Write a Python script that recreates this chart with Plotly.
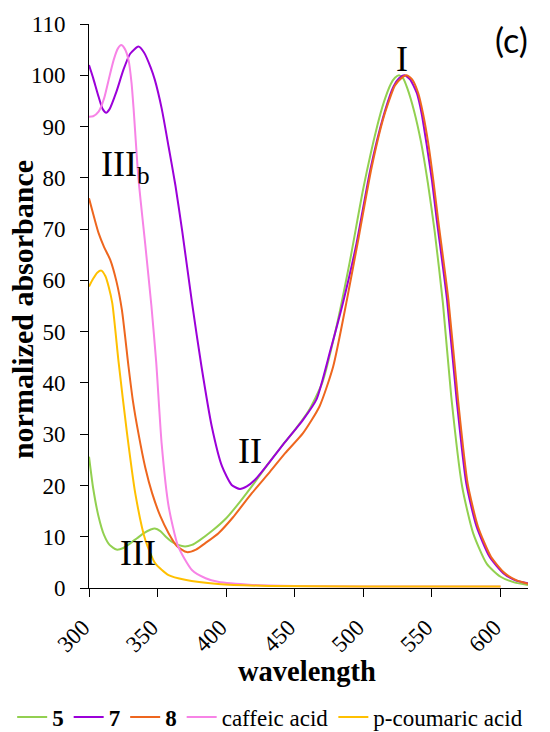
import plotly.graph_objects as go

# ---- data ----
wl_5 = [300, 303, 307, 311, 315, 320, 325, 330, 335, 340, 345, 348, 352, 356, 360, 365, 370, 375, 380,
        390, 400, 410, 420, 430, 440, 450, 460, 470, 480, 490, 500, 510, 515, 520, 523, 526, 529, 532, 537,
        542, 547, 552, 558, 564, 572, 580, 590, 600, 610, 620]
abs_5 = [25.6, 19.5, 13.9, 10.3, 8.4, 7.5, 7.8, 8.7, 9.7, 10.7, 11.4, 11.6, 11.1, 10.0, 9.1, 8.4, 8.1, 8.4, 9.2,
         11.2, 13.6, 16.8, 20.3, 24.0, 27.5, 30.8, 34.5, 40.0, 50.5, 63.5, 78.0, 90.0, 94.8, 98.3, 99.5, 100.0,
         99.4, 97.5, 93.0, 87.0, 79.0, 69.5, 55.5, 37.5, 19.8, 10.7, 4.7, 2.2, 1.1, 0.6]

wl_7 = [300, 303, 307, 310, 312.5, 315, 320, 325, 330, 336, 340, 345, 348, 353, 358, 363, 368, 375, 382,
        389.5, 397, 404, 410, 415, 421, 430, 443, 450, 456, 466, 476, 485, 495, 505, 514.5, 522, 526, 530,
        534, 539, 542.5, 546, 550, 553.5, 561, 568, 575, 582.5, 592, 602, 610, 620]
abs_7 = [102.0, 99.5, 95.8, 93.4, 92.7, 93.4, 96.8, 101.0, 104.2, 105.6, 104.5, 101.5, 99.1, 93.5, 86.1, 78.5,
         69.5, 55.8, 43.2, 31.5, 23.7, 20.1, 19.3, 19.8, 21.1, 24.0, 28.5, 30.8, 32.8, 36.9, 46.4, 55.5, 67.2,
         81.5, 91.9, 97.8, 99.4, 100.0, 99.2, 96.5, 92.5, 86.7, 79.5, 71.8, 56.2, 36.7, 20.4, 12.0, 6.1, 2.9,
         1.6, 0.9]

wl_8 = [300, 304, 307, 311, 315.5, 320, 324, 328.8, 332, 336, 341, 346, 352, 358, 364, 371.3, 378, 385,
        394.4, 405, 418.7, 432, 443, 456, 468, 478, 488, 497, 506, 515, 523, 527.5, 531.5, 535.5, 540, 543.5,
        547.3, 551, 554.5, 562, 569, 576, 583.5, 593, 603, 611, 620]
abs_8 = [76.0, 72.0, 69.2, 66.5, 64.0, 59.8, 54.2, 43.2, 36.5, 30.2, 23.5, 18.5, 14.0, 10.7, 8.2, 7.0, 7.5,
         8.8, 10.7, 13.8, 18.5, 22.7, 26.3, 30.2, 35.4, 43.2, 56.2, 69.0, 82.0, 92.0, 98.0, 99.4, 100.0, 99.2,
         96.5, 92.5, 86.7, 79.5, 71.8, 56.2, 36.7, 20.4, 12.0, 6.1, 2.9, 1.6, 0.8]

wl_caf = [300, 303, 307, 311, 314.3, 318, 321, 323.5, 326, 328.8, 331, 332.5, 336, 341, 345.5, 349, 353,
          358, 365, 375, 385, 394, 419, 450, 500, 550, 600]
abs_caf = [91.9, 92.0, 92.9, 95.5, 99.1, 103.0, 105.2, 105.9, 105.2, 103.0, 98.5, 93.5, 80.0, 67.0, 55.0,
           44.0, 28.0, 16.0, 8.1, 3.5, 1.9, 1.2, 0.6, 0.4, 0.3, 0.3, 0.3]

wl_cou = [300, 303, 306, 309, 312, 314.3, 317, 321.6, 327.7, 333.7, 341, 348.3, 358, 370, 394, 431, 500,
          550, 600]
abs_cou = [58.8, 60.3, 61.5, 61.9, 60.8, 58.8, 55.5, 44.0, 30.2, 18.5, 9.4, 4.8, 2.5, 1.6, 0.8, 0.4, 0.3,
           0.3, 0.3]

x_ticks = [300, 350, 400, 450, 500, 550, 600]
y_ticks = [0, 10, 20, 30, 40, 50, 60, 70, 80, 90, 100, 110]

series = [
    ("<b>5</b>", wl_5, abs_5, "#92D050"),
    ("<b>7</b>", wl_7, abs_7, "#9B00D9"),
    ("<b>8</b>", wl_8, abs_8, "#EE661E"),
    ("caffeic acid", wl_caf, abs_caf, "#F783E6"),
    ("p-coumaric acid", wl_cou, abs_cou, "#FFC000"),
]

SERIF = "serif"

fig = go.Figure()
for name, xs, ys, col in series:
    fig.add_trace(go.Scatter(x=xs, y=ys, name=name, mode="lines",
                             line=dict(color=col, width=2, shape="spline", smoothing=0.6)))

# band labels
labels = [
    ("I", 528, 103.2),
    ("II", 417.5, 26.7),
    ("III", 335.5, 6.8),
    ("III<sub>b</sub>", 326.5, 82.2),
]
for txt, xv, yv in labels:
    fig.add_annotation(x=xv, y=yv, text=txt, showarrow=False,
                       font=dict(family=SERIF, size=36, color="black"))

fig.add_annotation(xref="paper", yref="paper", x=1.004, y=0.972, text="(c)", showarrow=False,
                   xanchor="right", yanchor="middle",
                   font=dict(family="Lato", size=34, color="black"))

# axis titles (placed as annotations for exact position)
fig.add_annotation(xref="paper", yref="paper", x=-0.150, y=0.493, text="<b>normalized absorbance</b>",
                   textangle=-90, showarrow=False, xanchor="center", yanchor="middle",
                   font=dict(family=SERIF, size=30, color="black"))
fig.add_annotation(xref="paper", yref="paper", x=0.4977, y=-0.1489, text="<b>wavelength</b>",
                   showarrow=False, xanchor="center", yanchor="middle",
                   font=dict(family=SERIF, size=28.5, color="black"))

fig.update_layout(
    template="none",
    width=550, height=732,
    margin=dict(l=89, r=22, t=24, b=144, autoexpand=False),
    paper_bgcolor="white", plot_bgcolor="white",
    font=dict(family=SERIF, size=23, color="black"),
    showlegend=True,
    legend=dict(orientation="h", xref="paper", x=-0.175, xanchor="left",
                yref="paper", y=-0.2287, yanchor="middle",
                font=dict(family=SERIF, size=23, color="black"),
                itemwidth=30, tracegroupgap=0, bgcolor="rgba(0,0,0,0)"),
)
fig.update_xaxes(range=[300, 620], tickvals=x_ticks, ticktext=[str(v) for v in x_ticks],
                 tickangle=-45, ticks="outside", ticklen=8, tickcolor="black", automargin=False,
                 tickfont=dict(family=SERIF, size=23, color="black"),
                 ticklabelshift=-6, ticklabelstandoff=8,
                 showline=True, linecolor="black", linewidth=1, showgrid=False, zeroline=False)
fig.update_yaxes(range=[0, 110], tickvals=y_ticks, ticks="outside", ticklen=8, tickcolor="black",
                 automargin=False, tickfont=dict(family=SERIF, size=23, color="black"),
                 showline=True, linecolor="black", linewidth=1, showgrid=False, zeroline=False,
                 ticklabelstandoff=10)

fig.write_html("out.html", config={"displayModeBar": False},
               post_script="document.body.style.margin='0';")
